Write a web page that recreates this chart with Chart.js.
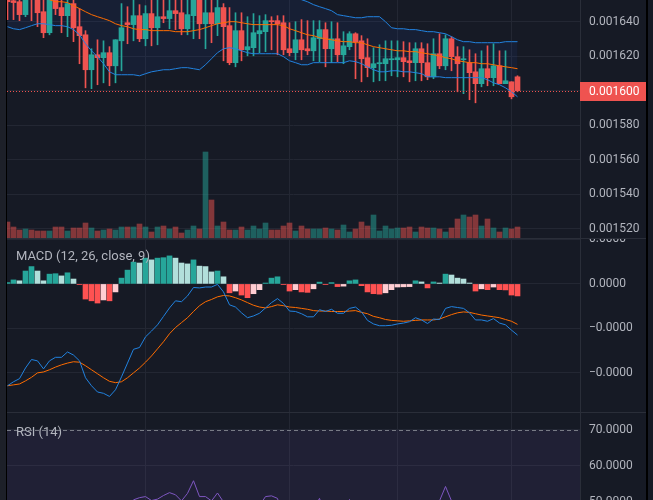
<!DOCTYPE html>
<html>
<head>
<meta charset="utf-8">
<script src="https://cdn.jsdelivr.net/npm/chart.js@4.4.1/dist/chart.umd.min.js"></script>
<style>
  html, body { margin: 0; padding: 0; }
  body { width: 653px; height: 500px; overflow: hidden; position: relative; background: #161a25; font-family: Roboto, sans-serif; }
  canvas { position: absolute; left: 0; }
  #price { top: 0; }
  #macd { top: 239px; }
  #rsi { top: 413px; }
  .sep { position: absolute; left: 7px; width: 640px; height: 1px; background: #2a2e39; }
  .title { position: absolute; left: 16px; font-size: 13px; line-height: 15px; color: #b2b5be; white-space: nowrap; }
  #edgeL { position: absolute; left: 0; top: 0; width: 6px; height: 500px; background: #1d2029; }
  #lineL { position: absolute; left: 6px; top: 0; width: 1px; height: 500px; background: #000; }
  #lineR { position: absolute; left: 646px; top: 0; width: 2px; height: 500px; background: #000; }
</style>
</head>
<body>
<canvas id="price" width="653" height="238"></canvas>
<canvas id="macd" width="653" height="173"></canvas>
<canvas id="rsi" width="653" height="147"></canvas>
<div class="sep" style="top:238px"></div>
<div class="sep" style="top:412px"></div>
<div class="title" style="top:248px">MACD (12, 26, close, 9)</div>
<div class="title" style="top:424px">RSI (14)</div>
<div id="edgeL"></div>
<div id="lineL"></div>
<div id="lineR"></div>
<script>
// prices are in units of 1e-6
const opens = [1656.4,1652.3,1651.7,1644.2,1657.6,1655.8,1645.9,1633.7,1655.2,1648.3,
  1643.6,1650.6,1637.2,1632.5,1612.2,1620.9,1619.2,1622.1,1614.5,1629.0,
  1639.5,1638.4,1643.6,1630.2,1644.8,1636.6,1643.0,1641.9,1646.5,1645.3,
  1636.0,1643.6,1655.2,1638.9,1645.3,1638.9,1648.3,1637.8,1616.3,1634.9,
  1623.8,1625.0,1633.1,1634.3,1640.7,1640.7,1639.5,1624.4,1622.1,1629.6,
  1624.4,1623.2,1630.2,1635.5,1624.4,1630.2,1620.9,1625.6,1633.1,1629.0,
  1619.2,1613.4,1615.7,1615.7,1618.0,1618.0,1619.2,1617.4,1616.3,1624.4,
  1616.3,1608.1,1621.5,1614.5,1630.2,1619.8,1618.0,1616.3,1611.0,1604.1,
  1612.8,1607.6,1614.5,1604.1,1605.2,1608.1];
const highs = [1658.7,1654.6,1654.1,1656.4,1658.7,1657.6,1653.5,1657.0,1657.6,1653.5,
  1653.5,1654.1,1647.7,1634.9,1624.4,1629.6,1629.0,1625.6,1629.6,1650.6,
  1648.8,1652.9,1650.0,1649.4,1653.5,1654.1,1653.5,1654.1,1654.1,1654.1,
  1654.1,1656.4,1657.0,1654.1,1654.1,1654.1,1650.6,1648.3,1645.3,1645.3,
  1643.0,1644.8,1643.6,1644.2,1643.0,1643.6,1643.6,1639.5,1640.1,1641.3,
  1640.7,1640.7,1640.7,1639.5,1640.1,1639.5,1634.3,1634.3,1633.7,1632.0,
  1630.2,1625.0,1626.7,1629.0,1629.0,1629.0,1628.5,1627.9,1627.9,1627.9,
  1627.3,1630.2,1633.1,1632.5,1631.4,1625.6,1625.6,1623.8,1621.5,1623.2,
  1626.1,1627.3,1623.2,1623.2,1605.2,1608.7];
const lows = [1641.3,1641.3,1640.7,1643.0,1640.7,1637.2,1630.8,1632.5,1644.2,1633.7,
  1631.4,1628.5,1615.7,1601.7,1601.2,1603.5,1604.6,1602.9,1604.6,1611.6,
  1627.3,1629.0,1628.5,1626.1,1626.1,1626.7,1639.5,1636.0,1635.5,1632.5,
  1632.5,1630.2,1630.2,1624.4,1627.9,1632.0,1617.4,1615.1,1613.9,1617.4,
  1620.3,1620.3,1622.1,1622.7,1623.8,1620.9,1620.9,1620.3,1618.0,1618.0,
  1620.9,1617.4,1616.9,1613.9,1616.3,1616.9,1615.7,1623.8,1607.0,1605.2,
  1608.1,1605.2,1605.8,1605.8,1608.7,1608.1,1608.1,1605.2,1605.8,1605.8,
  1606.4,1607.0,1612.8,1612.2,1611.6,1599.4,1598.3,1594.8,1593.0,1602.3,
  1602.9,1602.9,1604.1,1604.1,1595.3,1599.4];
const closes = [1651.7,1651.2,1644.2,1654.6,1654.6,1645.3,1633.7,1655.2,1647.7,1643.6,
  1650.6,1636.6,1632.0,1612.2,1620.9,1619.2,1622.1,1614.5,1629.6,1636.6,
  1638.4,1643.6,1630.2,1644.8,1636.6,1643.0,1641.9,1646.5,1644.8,1636.0,
  1644.2,1654.6,1638.9,1645.3,1638.9,1648.3,1637.2,1616.3,1634.9,1623.8,
  1625.6,1633.7,1634.9,1640.7,1640.1,1638.9,1623.8,1622.1,1629.6,1623.8,
  1623.2,1630.8,1635.5,1624.4,1630.2,1620.9,1626.1,1633.1,1628.5,1618.6,
  1613.4,1615.7,1616.3,1618.6,1618.6,1619.2,1616.9,1616.3,1624.4,1616.3,
  1608.1,1621.5,1614.5,1630.2,1619.8,1615.7,1618.6,1610.5,1604.1,1612.8,
  1607.6,1614.5,1604.1,1605.8,1596.5,1600.0];
const volumes = [16,11,8,9,8,7,7,7,11,11, 7,10,10,15,10,7,8,9,8,11,
  11,11,14,11,6,11,12,9,11,5, 8,12,9,86,38,12,16,8,8,11,
  8,12,9,15,8,8,12,15,7,12, 9,9,9,10,9,8,13,6,9,16,
  12,23,7,12,9,10,10,11,6,11, 10,10,9,6,10,19,23,21,23,12,
  19,10,6,10,9,11];
const bbUpper = [1677.9,1677.9,1677.3,1673.8,1671.5,1669.2,1668.0,1667.4,1665.7,1665.7,
  1665.1,1663.4,1662.8,1664.5,1665.1,1666.3,1668.0,1670.3,1668.6,1666.3,
  1665.1,1662.8,1662.2,1661.0,1658.7,1658.1,1657.6,1657.6,1655.8,1655.2,
  1655.2,1657.0,1658.7,1658.1,1657.0,1655.8,1654.6,1655.2,1655.8,1655.8,
  1655.8,1655.2,1655.2,1655.2,1655.2,1655.2,1655.8,1654.6,1653.5,1652.9,
  1651.7,1650.0,1648.8,1647.7,1646.5,1644.2,1643.6,1643.0,1642.4,1642.4,
  1643.0,1643.0,1643.0,1640.1,1636.6,1636.0,1636.0,1635.5,1635.5,1634.9,
  1634.3,1634.3,1633.7,1633.1,1631.4,1629.6,1628.5,1628.5,1627.9,1627.9,
  1627.9,1627.9,1627.9,1628.5,1628.5,1628.5];
const bbBasis = [1657.6,1657.0,1656.4,1655.2,1654.6,1654.1,1653.5,1652.9,1651.7,1651.7,
  1651.2,1649.4,1647.7,1645.9,1644.2,1643.0,1641.9,1640.7,1638.9,1637.8,
  1637.2,1636.0,1635.5,1635.5,1634.9,1634.9,1634.9,1634.9,1634.3,1634.3,
  1634.3,1634.9,1635.5,1636.6,1637.8,1638.9,1639.5,1640.1,1640.1,1639.5,
  1638.9,1638.4,1638.4,1638.4,1638.4,1638.4,1637.8,1636.0,1634.9,1633.7,
  1632.5,1632.0,1630.8,1630.2,1629.6,1629.0,1628.5,1628.5,1627.9,1627.9,
  1626.7,1625.6,1625.0,1624.4,1623.8,1623.2,1623.2,1622.7,1622.7,1622.1,
  1621.5,1620.9,1620.3,1619.2,1618.6,1617.4,1616.9,1616.3,1616.3,1615.7,
  1615.7,1615.1,1614.5,1613.9,1613.4,1612.8];
const bbLower = [1637.2,1636.0,1635.5,1636.6,1637.8,1638.9,1638.9,1638.4,1637.8,1637.8,
  1637.2,1635.5,1632.5,1627.3,1623.2,1619.8,1615.7,1611.0,1609.3,1609.3,
  1609.3,1609.3,1608.7,1609.9,1611.0,1611.6,1612.2,1612.2,1612.8,1613.4,
  1613.4,1612.8,1612.2,1615.1,1618.6,1622.1,1624.4,1625.0,1624.4,1623.2,
  1622.1,1621.5,1621.5,1621.5,1621.5,1621.5,1619.8,1617.4,1616.3,1615.1,
  1615.1,1616.3,1616.3,1616.3,1616.3,1616.3,1616.3,1617.4,1616.9,1615.7,
  1613.9,1612.2,1611.0,1611.0,1611.6,1611.6,1611.0,1611.0,1610.5,1609.9,
  1608.1,1608.1,1608.1,1607.6,1607.6,1607.6,1607.6,1607.6,1607.6,1607.6,
  1606.4,1604.6,1603.5,1601.7,1599.4,1596.5];
// MACD values are in units of 1e-7
const macdLine = [-22.9,-22.0,-21.3,-18.9,-17.0,-17.3,-19.1,-17.3,-16.5,-16.5,
  -15.3,-16.0,-17.3,-21.1,-22.9,-24.3,-24.6,-25.3,-23.8,-20.9,
  -17.8,-14.7,-14.3,-11.9,-10.6,-9.2,-7.3,-5.4,-3.8,-4.0,
  -2.7,-0.8,-0.9,-0.7,-0.7,-0.1,-1.8,-4.7,-5.2,-6.5,
  -7.6,-7.2,-6.6,-5.4,-4.2,-3.3,-4.4,-6.1,-6.2,-6.7,
  -7.4,-7.4,-5.8,-6.2,-5.7,-6.6,-6.6,-5.5,-5.2,-6.3,
  -8.2,-9.0,-9.4,-9.4,-9.3,-9.0,-8.8,-8.5,-7.6,-8.1,
  -8.9,-7.9,-8.0,-5.5,-5.1,-5.3,-5.5,-6.5,-8.1,-8.1,
  -8.4,-7.8,-8.8,-9.2,-10.4,-11.5];
const signalLine = [-22.9,-22.7,-22.5,-21.8,-21.0,-20.0,-19.8,-19.3,-18.7,-18.2,
  -17.8,-17.5,-17.6,-18.4,-19.3,-20.2,-21.1,-21.9,-22.2,-22.0,
  -21.1,-20.0,-18.9,-17.6,-16.2,-14.6,-13.0,-11.2,-9.8,-8.7,
  -7.6,-6.2,-4.9,-4.0,-3.5,-2.9,-2.6,-2.7,-3.1,-3.6,
  -4.2,-4.8,-5.2,-5.4,-5.1,-4.7,-4.9,-5.2,-5.3,-5.5,
  -5.7,-6.0,-6.1,-6.1,-6.2,-6.2,-6.2,-6.1,-6.0,-6.4,
  -6.7,-7.3,-7.6,-8.0,-8.2,-8.3,-8.4,-8.3,-8.2,-8.1,
  -8.1,-8.1,-7.9,-7.4,-6.9,-6.5,-6.3,-6.4,-6.7,-7.0,
  -7.2,-7.4,-7.6,-8.0,-8.4,-9.1];
const macdHist = [0.3,0.9,0.7,2.9,3.9,2.9,0.7,2.2,2.3,1.8,
  2.5,1.1,-0.15,-3.4,-3.8,-4.3,-3.6,-3.8,-1.8,1.3,
  3.1,4.9,4.7,5.8,5.4,5.8,5.9,6.3,5.8,4.7,
  4.5,5.4,4.0,3.9,2.7,2.9,1.6,-2.0,-1.6,-2.5,
  -3.1,-2.2,-1.3,0.2,1.3,1.6,-0.15,-1.6,-1.3,-1.8,
  -1.9,-1.1,0.4,-0.15,0.3,-0.6,-0.5,0.7,0.9,-0.4,
  -1.8,-2.2,-2.3,-2.0,-1.3,-0.7,-0.65,-0.6,0.7,0.45,
  -0.9,0.45,0.2,2.2,2.0,1.3,1.1,0.2,-1.6,-1.1,
  -1.3,-0.7,-1.3,-1.35,-2.5,-2.7];
const rsi = [44,43,40,46,45,41,36,47,44,42,
  45,40,38,31,35,34,36,33,41,45,
  48,50.6,51.2,51.5,50.4,50.8,51.8,52.6,52.0,50.3,
  52.4,55.9,51.5,51.5,50.3,52.5,50.0,42,47,44,
  45,48,49,51.5,51.7,51.0,45,44,47,45,
  45,48,51.0,46,48,45,47,50.7,48,44,
  42,43,43.5,44.5,45,45.5,44,43.5,47,44,
  40,46,50.3,54.3,50.3,46,46.5,44,40,44,
  42,45,40,41,36,38];
const timeGrid = [23, 47, 65, 84];
const rsiUpper = 70, rsiLower = 30;

const UP = '#26a69a', DOWN = '#ef5350';
const BLUE = '#2283e0', ORANGE = '#ff6d00', PURPLE = '#7e57c2';
const GRID = '#232733', TXT = '#b2b5be', FONT = 'Roboto, sans-serif';
const X_MIN = -1 / 12, X_MAX = -1 / 12 + 573 / 6;

const up = closes.map((c, i) => c >= opens[i]);
const candleColors = up.map(u => u ? UP : DOWN);
const volColors = up.map(u => u ? 'rgba(38,166,154,0.5)' : 'rgba(239,83,80,0.5)');
const histColors = macdHist.map((h, i) => {
  const prev = i > 0 ? macdHist[i - 1] : 0;
  if (h >= 0) return h >= prev ? '#26a69a' : '#b2dfdb';
  return h < prev ? '#ff5252' : '#ffcdd2';
});
const pts = arr => arr.map((v, i) => ({ x: i, y: v }));

Chart.defaults.font.family = FONT;
Chart.defaults.animation = false;

function xAxis() {
  return {
    type: 'linear', min: X_MIN, max: X_MAX, offset: false,
    ticks: { display: false },
    grid: { color: GRID, drawTicks: false, offset: false },
    border: { display: false },
    afterBuildTicks: s => { s.ticks = timeGrid.map(v => ({ value: v })); },
    afterFit: s => { s.height = 0; s.paddingLeft = 0; s.paddingRight = 0; }
  };
}
function yAxis(min, max, step, fmt) {
  return {
    position: 'right', min: min, max: max, beginAtZero: false,
    grid: { color: GRID, drawTicks: false },
    border: { display: true, color: '#2a2e39' },
    ticks: {
      stepSize: step, includeBounds: false, autoSkip: false, padding: 9,
      color: TXT, font: { family: FONT, size: 12 }, callback: fmt
    },
    afterFit: s => { s.width = 73; s.paddingTop = 0; s.paddingBottom = 0; }
  };
}
const baseOpts = {
  responsive: false, animation: false, events: [],
  layout: { padding: { left: 7, right: 0, top: 0, bottom: 0 } },
  plugins: { legend: { display: false }, tooltip: { enabled: false },
    filler: { propagate: false, drawTime: 'beforeDatasetsDraw' } }
};

const lastPrice = {
  id: 'lastPrice',
  afterDatasetsDraw(chart) {
    const { ctx, chartArea: a, scales } = chart;
    const y = Math.round(scales.y.getPixelForValue(closes[closes.length - 1])) + 0.5;
    ctx.save();
    ctx.strokeStyle = DOWN; ctx.lineWidth = 1; ctx.setLineDash([1, 2]);
    ctx.beginPath(); ctx.moveTo(a.left, y); ctx.lineTo(a.right, y); ctx.stroke();
    ctx.restore();
  },
  afterDraw(chart) {
    const { ctx, chartArea: a, scales } = chart;
    const last = closes[closes.length - 1];
    const y = Math.round(scales.y.getPixelForValue(last));
    ctx.save();
    ctx.fillStyle = DOWN;
    ctx.fillRect(a.right, y - 9, 66, 19);
    ctx.fillStyle = '#ffffff';
    ctx.font = '12px ' + FONT;
    ctx.textBaseline = 'middle';
    ctx.fillText((last / 1e6).toFixed(6), a.right + 9, y + 0.5);
    ctx.restore();
  }
};

new Chart(document.getElementById('price'), {
  type: 'bar',
  data: {
    datasets: [
      { type: 'line', label: 'Upper', data: pts(bbUpper), borderColor: BLUE, borderWidth: 1, pointRadius: 0, order: 0 },
      { type: 'line', label: 'Basis', data: pts(bbBasis), borderColor: ORANGE, borderWidth: 1, pointRadius: 0, order: 0 },
      { type: 'line', label: 'Lower', data: pts(bbLower), borderColor: BLUE, borderWidth: 1, pointRadius: 0, order: 0,
        fill: 0, backgroundColor: 'rgba(41,98,255,0.07)' },
      { label: 'Body', data: opens.map((o, i) => ({ x: i, y: [o, closes[i]] })), backgroundColor: candleColors,
        barThickness: 5, grouped: false, minBarLength: 1, order: 1 },
      { label: 'Wick', data: lows.map((l, i) => ({ x: i, y: [l, highs[i]] })), backgroundColor: candleColors,
        barThickness: 1, grouped: false, order: 2 },
      { label: 'Volume', yAxisID: 'yVol', data: pts(volumes), backgroundColor: volColors,
        barThickness: 5, grouped: false, order: 3 }
    ]
  },
  options: Object.assign({}, baseOpts, {
    scales: {
      x: xAxis(),
      y: yAxis(1514.5, 1652.7, 20, v => (v / 1e6).toFixed(6)),
      yVol: { display: false, min: 0, max: 238 }
    }
  }),
  plugins: [lastPrice]
});

new Chart(document.getElementById('macd'), {
  type: 'bar',
  data: {
    datasets: [
      { type: 'line', label: 'MACD', data: pts(macdLine), borderColor: BLUE, borderWidth: 1, pointRadius: 0, order: 0 },
      { type: 'line', label: 'Signal', data: pts(signalLine), borderColor: ORANGE, borderWidth: 1, pointRadius: 0, order: 1 },
      { label: 'Histogram', data: pts(macdHist), backgroundColor: histColors, barThickness: 5, grouped: false, order: 2 }
    ]
  },
  options: Object.assign({}, baseOpts, {
    scales: {
      x: xAxis(),
      y: yAxis(-28.8, 10.1, 10, v => (v / 1e7).toFixed(4).replace('-', '\u2212'))
    }
  })
});

const rsiBand = {
  id: 'rsiBand',
  beforeDatasetsDraw(chart) {
    const { ctx, chartArea: a, scales } = chart;
    const top = scales.y.getPixelForValue(rsiUpper);
    const bot = Math.min(scales.y.getPixelForValue(rsiLower), a.bottom);
    ctx.save();
    ctx.fillStyle = 'rgba(126,87,194,0.1)';
    ctx.fillRect(a.left, top, a.right - a.left, bot - top);
    ctx.strokeStyle = '#787b86'; ctx.lineWidth = 1; ctx.setLineDash([4, 3]);
    const y = Math.round(top) + 0.5;
    ctx.beginPath(); ctx.moveTo(a.left, y); ctx.lineTo(a.right, y); ctx.stroke();
    ctx.restore();
  }
};

new Chart(document.getElementById('rsi'), {
  type: 'line',
  data: {
    datasets: [
      { label: 'RSI', data: pts(rsi), borderColor: PURPLE, borderWidth: 1, pointRadius: 0 }
    ]
  },
  options: Object.assign({}, baseOpts, {
    scales: {
      x: xAxis(),
      y: yAxis(33.9, 74.7, 10, v => v.toFixed(4))
    }
  }),
  plugins: [rsiBand]
});
</script>
</body>
</html>
